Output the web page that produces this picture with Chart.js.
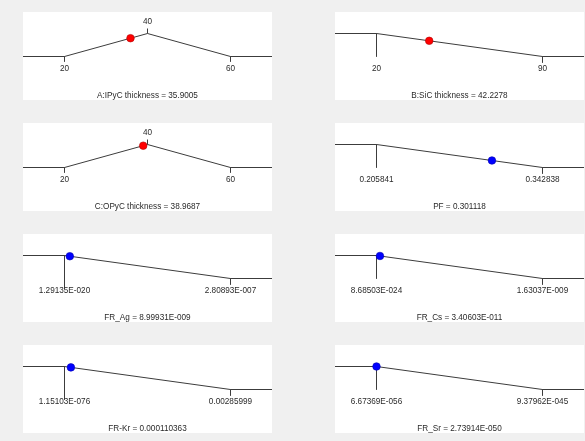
<!DOCTYPE html>
<html>
<head>
<meta charset="utf-8">
<script src="https://cdn.jsdelivr.net/npm/chart.js@4.4.1/dist/chart.umd.min.js"></script>
<style>
  html, body { margin: 0; padding: 0; background: #f0f0f0; }
  #wrap { position: relative; width: 585px; height: 441px; background: #f0f0f0; overflow: hidden; }
  canvas.panel { position: absolute; background: #ffffff; }
</style>
</head>
<body>
<div id="wrap"></div>
<script>
// ---- data ----
const factorNames   = ['A:IPyC thickness', 'B:SiC thickness', 'C:OPyC thickness', 'PF', 'FR_Ag', 'FR_Cs', 'FR-Kr', 'FR_Sr'];
const goals         = ['target', 'minimize', 'target', 'minimize', 'minimize', 'minimize', 'minimize', 'minimize'];
const lowLimits     = [20, 20, 20, 0.205841, 1.29135e-20, 8.68503e-24, 1.15103e-76, 6.67369e-56];
const targetValues  = [40, null, 40, null, null, null, null, null];
const highLimits    = [60, 90, 60, 0.342838, 2.80893e-7, 1.63037e-9, 0.00285999, 9.37962e-45];
const optimumValues = [35.9005, 42.2278, 38.9687, 0.301118, 8.99931e-9, 3.40603e-11, 0.000110363, 2.73914e-50];
const lowLabels     = ['20', '20', '20', '0.205841', '1.29135E-020', '8.68503E-024', '1.15103E-076', '6.67369E-056'];
const targetLabels  = ['40', null, '40', null, null, null, null, null];
const highLabels    = ['60', '90', '60', '0.342838', '2.80893E-007', '1.63037E-009', '0.00285999', '9.37962E-045'];
const valueLabels   = ['35.9005', '42.2278', '38.9687', '0.301118', '8.99931E-009', '3.40603E-011', '0.000110363', '2.73914E-050'];

// ---- styles / layout ----
const panelLeft = [23, 335];
const panelTop = [12, 123, 234, 345];
const panelW = 249, panelH = 88;
const PX_PER_UNIT = 23;
const Y_MAX = 1 + 21.5 / PX_PER_UNIT;      // d=1 at 21.5px from panel top
const Y_MIN = -(panelH - 44.5) / PX_PER_UNIT; // d=0 at 44.5px from panel top
const dotFill   = ['#ff0000', '#ff0000', '#ff0000', '#0000ff', '#0000ff', '#0000ff', '#0000ff', '#0000ff'];
const dotBorder = ['#b00000', '#b00000', '#b00000', '#0000b0', '#0000b0', '#0000b0', '#0000b0', '#0000b0'];
const longTickExtraPx = [0, 0, 0, 0, 10, 0, 10, 0];
const lineColor = '#3c3c3c';
const textColor = '#2a2a2a';
const FONT = '8.2px "Liberation Sans", Arial, sans-serif';

function desirability(i, v) {
  const lo = lowLimits[i], hi = highLimits[i];
  if (goals[i] === 'target') {
    const t = targetValues[i];
    if (v <= lo || v >= hi) return 0;
    return v <= t ? (v - lo) / (t - lo) : (hi - v) / (hi - t);
  }
  if (v <= lo) return 1;
  if (v >= hi) return 0;
  return (hi - v) / (hi - lo);
}

const labelPlugin = {
  id: 'panelLabels',
  afterDatasetsDraw(chart, args, opts) {
    const i = opts.index;
    const ctx = chart.ctx;
    const xs = chart.scales.x, ys = chart.scales.y;
    const y0 = ys.getPixelForValue(0), y1 = ys.getPixelForValue(1);
    ctx.save();
    ctx.font = FONT;
    ctx.fillStyle = textColor;
    ctx.textAlign = 'center';
    ctx.textBaseline = 'middle';
    ctx.fillText(lowLabels[i], xs.getPixelForValue(lowLimits[i]), y0 + 12);
    ctx.fillText(highLabels[i], xs.getPixelForValue(highLimits[i]), y0 + 12);
    if (targetLabels[i]) ctx.fillText(targetLabels[i], xs.getPixelForValue(targetValues[i]), y1 - 11.5);
    ctx.fillText(factorNames[i] + ' = ' + valueLabels[i], chart.width / 2, chart.height - 4.5);
    ctx.restore();
  }
};

const wrap = document.getElementById('wrap');
for (let i = 0; i < factorNames.length; i++) {
  const cv = document.createElement('canvas');
  cv.className = 'panel';
  cv.width = panelW; cv.height = panelH;
  cv.style.width = panelW + 'px'; cv.style.height = panelH + 'px';
  cv.style.left = panelLeft[i % 2] + 'px';
  cv.style.top = panelTop[Math.floor(i / 2)] + 'px';
  wrap.appendChild(cv);

  const lo = lowLimits[i], hi = highLimits[i];
  const span = hi - lo;
  const xMin = lo - 0.25 * span, xMax = hi + 0.25 * span;

  let curve;
  if (goals[i] === 'target') {
    curve = [{x: xMin, y: 0}, {x: lo, y: 0}, {x: targetValues[i], y: 1}, {x: hi, y: 0}, {x: xMax, y: 0}];
  } else {
    curve = [{x: xMin, y: 1}, {x: lo, y: 1}, {x: hi, y: 0}, {x: xMax, y: 0}];
  }

  const ticks = [];
  if (goals[i] === 'target') {
    ticks.push([{x: lo, y: 0}, {x: lo, y: -5 / PX_PER_UNIT}]);
    ticks.push([{x: targetValues[i], y: 1}, {x: targetValues[i], y: 1 + 5 / PX_PER_UNIT}]);
    ticks.push([{x: hi, y: 0}, {x: hi, y: -5 / PX_PER_UNIT}]);
  } else {
    ticks.push([{x: lo, y: 1}, {x: lo, y: -longTickExtraPx[i] / PX_PER_UNIT}]);
    ticks.push([{x: hi, y: 0}, {x: hi, y: -6 / PX_PER_UNIT}]);
  }

  const datasets = [{
    data: curve, borderColor: lineColor, borderWidth: 1, pointRadius: 0, clip: false, tension: 0, order: 2
  }];
  ticks.forEach(t => datasets.push({
    data: t, borderColor: lineColor, borderWidth: 1, pointRadius: 0, clip: false, order: 2
  }));
  datasets.push({
    data: [{x: optimumValues[i], y: desirability(i, optimumValues[i])}],
    showLine: false, pointRadius: 3.8, pointBackgroundColor: dotFill[i],
    pointBorderColor: dotBorder[i], pointBorderWidth: 0.6, clip: false, order: 0
  });

  new Chart(cv, {
    type: 'line',
    data: { datasets },
    options: {
      responsive: false,
      animation: false,
      devicePixelRatio: 1,
      layout: { padding: 0, autoPadding: false },
      plugins: { legend: { display: false }, tooltip: { enabled: false }, title: { display: false }, panelLabels: { index: i } },
      scales: {
        x: { type: 'linear', min: xMin, max: xMax, display: false, ticks: { callback: () => '' } },
        y: { type: 'linear', min: Y_MIN, max: Y_MAX, display: false, ticks: { callback: () => '' } }
      }
    },
    plugins: [labelPlugin]
  });
}
</script>
</body>
</html>
